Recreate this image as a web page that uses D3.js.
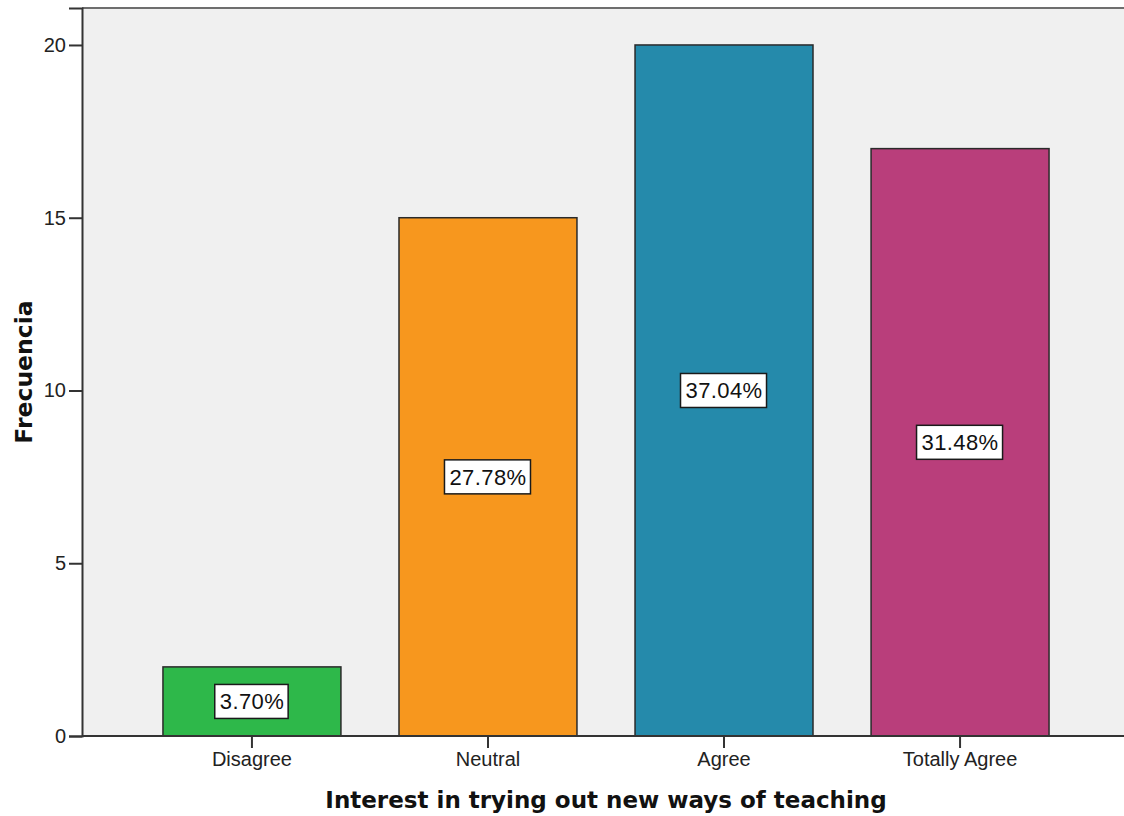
<!DOCTYPE html>
<html>
<head>
<meta charset="utf-8">
<script src="https://cdn.jsdelivr.net/npm/d3@7"></script>
<style>
  html, body { margin: 0; padding: 0; background: #ffffff; }
  svg { display: block; }
</style>
</head>
<body>
<svg id="chart" width="1124" height="816"></svg>
<script>
const categories = ["Disagree", "Neutral", "Agree", "Totally Agree"];
const frequencies = [2, 15, 20, 17];
const percentLabels = ["3.70%", "27.78%", "37.04%", "31.48%"];
const barColors = ["#2eb84a", "#f7971e", "#258aab", "#b93e7b"];
const yTicks = [0, 5, 10, 15, 20];
const xTitle = "Interest in trying out new ways of teaching";
const yTitle = "Frecuencia";

const svg = d3.select("#chart");
const plot = { left: 82, top: 8, right: 1130, bottom: 736 };

const x = d3.scaleBand()
  .domain(categories)
  .range([plot.left, plot.right])
  .paddingInner(0.246)
  .paddingOuter(0.343);

const y = d3.scaleLinear()
  .domain([0, 21.07])
  .range([plot.bottom, plot.top]);

// background
svg.append("rect")
  .attr("x", plot.left).attr("y", plot.top)
  .attr("width", 1124 - plot.left).attr("height", plot.bottom - plot.top)
  .attr("fill", "#f0f0f0");

// top border
svg.append("line")
  .attr("x1", plot.left).attr("x2", 1124)
  .attr("y1", plot.top).attr("y2", plot.top)
  .attr("stroke", "#6e6e6e").attr("stroke-width", 2);

// bars
const data = categories.map((c, i) => ({ c, v: frequencies[i], p: percentLabels[i], col: barColors[i] }));

svg.append("g").selectAll("rect")
  .data(data)
  .join("rect")
  .attr("x", d => x(d.c))
  .attr("y", d => y(d.v))
  .attr("width", x.bandwidth())
  .attr("height", d => y(0) - y(d.v))
  .attr("fill", d => d.col)
  .attr("stroke", "#2a2a2a")
  .attr("stroke-width", 1.5);

// axes
const yAxis = d3.axisLeft(y).tickValues(yTicks).tickSize(13).tickPadding(3);
const gy = svg.append("g").attr("transform", `translate(${plot.left},0)`).call(yAxis);
gy.select(".domain").attr("stroke", "#333").attr("stroke-width", 2);
gy.selectAll(".tick line").attr("stroke", "#333").attr("stroke-width", 2);
gy.selectAll(".tick text")
  .attr("font-family", "Liberation Sans, Arial, sans-serif")
  .attr("font-size", 20).attr("fill", "#222");

const xAxis = d3.axisBottom(x).tickSize(12).tickPadding(4).tickSizeOuter(0);
const gx = svg.append("g").attr("transform", `translate(0,${plot.bottom})`).call(xAxis);
gx.select(".domain").attr("stroke", "#333").attr("stroke-width", 2)
  .attr("d", `M${plot.left},0H1124`);
gx.selectAll(".tick line").attr("stroke", "#333").attr("stroke-width", 2);
gx.selectAll(".tick text")
  .attr("font-family", "Liberation Sans, Arial, sans-serif")
  .attr("font-size", 20).attr("fill", "#222");

// percent labels
const lab = svg.append("g").selectAll("g")
  .data(data)
  .join("g")
  .attr("transform", d => `translate(${x(d.c) + x.bandwidth() / 2},${y(d.v / 2)})`);

lab.append("text")
  .attr("text-anchor", "middle")
  .attr("dy", "0.36em")
  .attr("font-family", "Liberation Sans, Arial, sans-serif")
  .attr("font-size", 22)
  .attr("letter-spacing", 0.4)
  .attr("fill", "#111")
  .text(d => d.p)
  .each(function () {
    const bb = this.getBBox();
    d3.select(this.parentNode).insert("rect", "text")
      .attr("x", bb.x - 5).attr("y", -17)
      .attr("width", bb.width + 9).attr("height", 34)
      .attr("fill", "#ffffff")
      .attr("stroke", "#1a1a1a").attr("stroke-width", 1.5);
  });

// titles
svg.append("text")
  .attr("x", 606).attr("y", 808)
  .attr("text-anchor", "middle")
  .attr("font-family", "DejaVu Sans, sans-serif")
  .attr("font-weight", "bold")
  .attr("font-size", 23)
  .attr("fill", "#111")
  .text(xTitle);

svg.append("text")
  .attr("transform", "translate(32,372) rotate(-90)")
  .attr("text-anchor", "middle")
  .attr("font-family", "DejaVu Sans, sans-serif")
  .attr("font-weight", "bold")
  .attr("font-size", 23.5)
  .attr("fill", "#111")
  .text(yTitle);
</script>
</body>
</html>
